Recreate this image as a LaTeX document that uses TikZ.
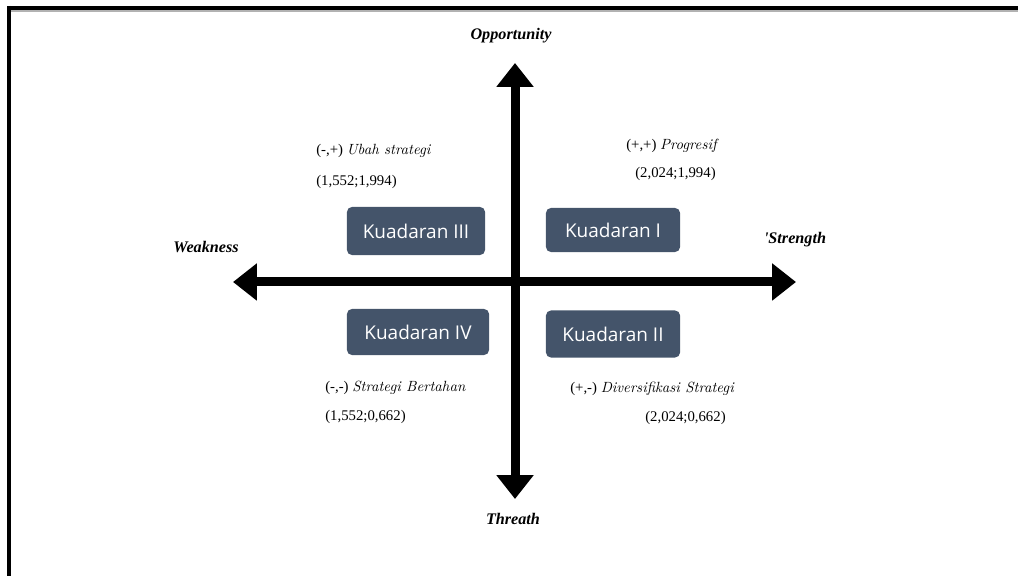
\documentclass[tikz,border=0pt]{standalone}
\usepackage{fontspec}
\setmainfont{Liberation Serif}
\newfontfamily\quadfont{Open Sans}
\newfontfamily\lmfont{Latin Modern Roman}
\usetikzlibrary{arrows.meta, positioning}
\definecolor{slate}{HTML}{44546A}
\newcommand{\strat}[1]{{\lmfont\itshape #1}}
\tikzset{
  quadbox/.style={draw=none, fill=slate, rounded corners=3.5pt, text=white, font=\quadfont\fontsize{13.5}{15}\selectfont, inner sep=0pt},
  axislabel/.style={font=\fontsize{11.5}{13}\selectfont\bfseries\itshape, inner sep=0pt},
  note/.style={anchor=west, font=\fontsize{10.5}{12}\selectfont, inner sep=0pt},
  axisarrow/.style={line width=6.4pt, -{Triangle[length=17pt, width=25.5pt]}},
}
\begin{document}
\begin{tikzpicture}[x=0.025cm, y=-0.025cm]
  \useasboundingbox (0,0) rectangle (1018,576);
  % Frame (top and left edge only)
  \draw[gray!60, line width=0.8pt] (11,11) -- (1018,11);
  \draw[line width=2.8pt] (7,8) -- (1018,8);
  \draw[line width=2.8pt] (9,6) -- (9,576);

  % Axis ends
  \coordinate (centre) at (515,282);
  \coordinate (opptip) at (515,63);
  \coordinate (thrtip) at (515,499);
  \coordinate (weaktip) at (233,282);
  \coordinate (strtip) at (796,282);

  % Axes
  \draw[axisarrow] (centre) -- (opptip);
  \draw[axisarrow] (centre) -- (thrtip);
  \draw[axisarrow] (centre) -- (weaktip);
  \draw[axisarrow] (centre) -- (strtip);

  % Axis labels
  \node[axislabel] (opp) at (511,36) {Opportunity};
  \node[axislabel] (thr) at (513,519) {Threath};
  \node[axislabel] (weak) at (206,247) {Weakness};
  \node[axislabel] (str) at (795,240) {\textquotesingle Strength};

  % Quadrant boxes
  \node[quadbox, minimum width=3.45cm, minimum height=1.2cm] (q3) at (416,231) {Kuadaran III};
  \node[quadbox, minimum width=3.35cm, minimum height=1.1cm] (q1) at (613,230) {Kuadaran I};
  \node[quadbox, minimum width=3.55cm, minimum height=1.15cm] (q4) at (418,332) {Kuadaran IV};
  \node[quadbox, minimum width=3.35cm, minimum height=1.175cm] (q2) at (613,334) {Kuadaran II};

  % Strategy notes
  \node[note] (n3) at (316,151) {(-,+) \strat{Ubah strategi}};
  \node[note] (v3) at (316,182) {(1,552;1,994)};
  \node[note] (n1) at (626,146) {(+,+) \strat{Progresif}};
  \node[note] (v1) at (635,174) {(2,024;1,994)};
  \node[note] (n4) at (325,388) {(-,-) \strat{Strategi Bertahan}};
  \node[note] (v4) at (325,417) {(1,552;0,662)};
  \node[note] (n2) at (570,389) {(+,-) \strat{Diversifikasi Strategi}};
  \node[note] (v2) at (645,418) {(2,024;0,662)};
\end{tikzpicture}
\end{document}
